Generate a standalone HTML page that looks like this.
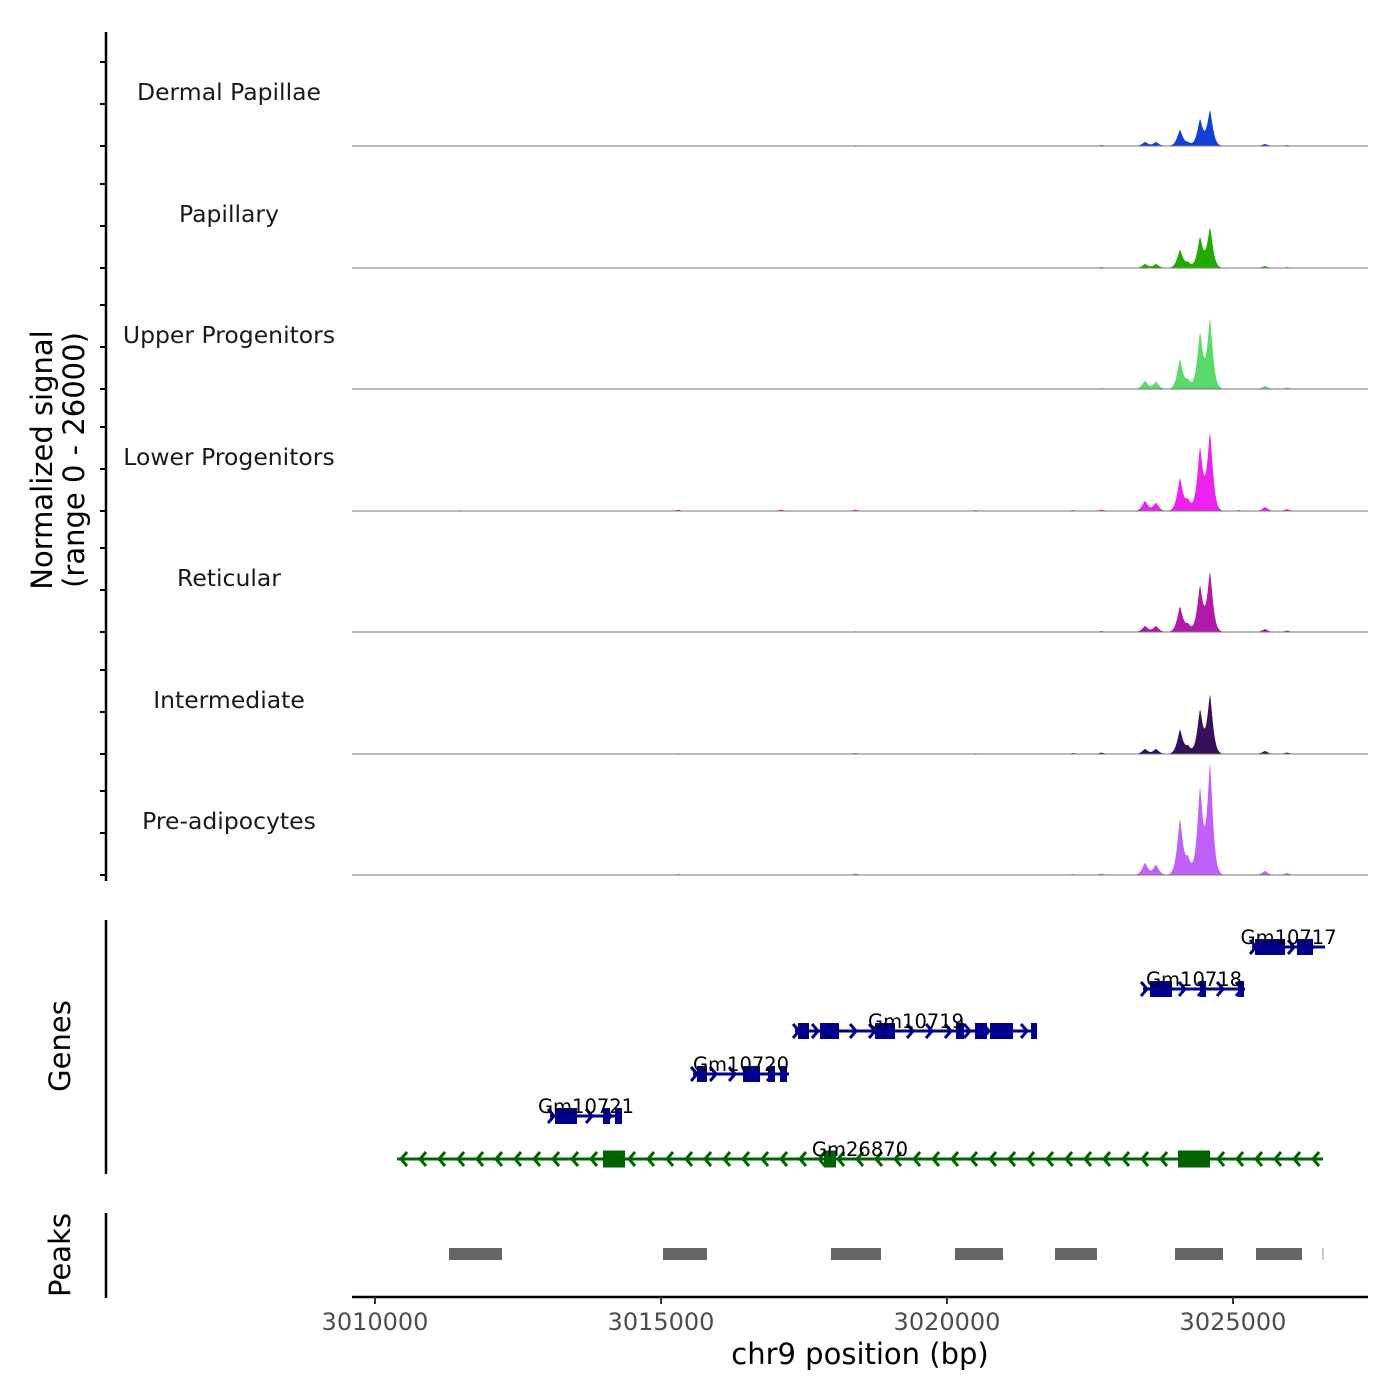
<!DOCTYPE html>
<html><head><meta charset="utf-8"><style>
body{margin:0;background:#fff}
svg{display:block;font-family:"DejaVu Sans","Liberation Sans",sans-serif}
</style></head><body>
<svg id="c" width="1400" height="1400" viewBox="0 0 1400 1400"></svg>
<script>
const trackNames=["Dermal Papillae","Papillary","Upper Progenitors","Lower Progenitors","Reticular","Intermediate","Pre-adipocytes"];
const trackColors=["#1040d8","#22aa00","#5ada6a","#ee22ee","#b01aa8","#36105a","#c060f8"];
const peakCenters=[3011500,3015300,3017100,3018400,3020500,3022200,3022700,3023462,3023654,3024073,3024213,3024423,3024598,3025100,3025559,3025944];
const sig0=[100,100,100,150,100,100,200,860,860,3440,650,5590,7530,100,430,200];
const sig1=[50,80,80,100,80,80,200,860,860,3870,1080,6450,8600,80,430,200];
const sig2=[50,80,80,100,80,80,200,1720,1500,6240,1720,11800,14800,80,650,300];
const sig3=[150,300,300,300,200,200,300,2150,1720,6880,2150,13300,16600,200,860,400];
const sig4=[50,100,100,150,100,100,200,1290,1290,5380,1500,9680,12700,100,650,300];
const sig5=[50,150,100,200,150,200,300,1080,1080,5160,1500,9250,12500,100,650,300];
const sig6=[100,200,100,300,100,200,300,2580,2150,11800,3230,18300,23400,100,860,400];
const signals=[sig0,sig1,sig2,sig3,sig4,sig5,sig6];
const xTicks=[3010000,3015000,3020000,3025000];
const geneNames=["Gm10717","Gm10718","Gm10719","Gm10720","Gm10721","Gm26870"];
const geneStarts=[3025333,3023427,3017343,3015560,3013060,3010385];
const geneEnds=[3026609,3025210,3021574,3017238,3014318,3026574];
const geneStrands=[1,1,1,1,1,-1];
const geneExons=[
 [[3025385,3025910],[3026119,3026399]],
 [[3023549,3023934],[3024423,3024528],[3025088,3025193]],
 [[3017395,3017588],[3017780,3018112],[3018742,3019091],[3020158,3020297],[3020490,3020700],[3020752,3021154],[3021469,3021574]],
 [[3015629,3015804],[3016434,3016731],[3016871,3016993],[3017081,3017203]],
 [[3013147,3013532],[3013986,3014108],[3014196,3014318]],
 [[3013986,3014371],[3017850,3018060],[3024039,3024598]]];
const peakStarts=[3011294,3015035,3017971,3020140,3021888,3023986,3025402,3026556];
const peakEnds=[3012220,3015804,3018846,3020979,3022622,3024825,3026206,3026590];

const svg=document.getElementById('c');const NS="http://www.w3.org/2000/svg";
function mk(t,a,p){const e=document.createElementNS(NS,t);for(const k in a)e.setAttribute(k,a[k]);(p||svg).appendChild(e);return e;}
const X=bp=>375+(bp-3010000)*0.0572;
const baselines=[146,268,389,511,632,754,875];
const Y=v=>v/26000*121;
let ax=mk('line',{x1:106,y1:32,x2:106,y2:881,stroke:'#000','stroke-width':2.5});

baselines.forEach(b=>[0,42,84].forEach(o=>{mk('line',{x1:100,y1:b-o,x2:106,y2:b-o,stroke:'#000','stroke-width':2});}));
baselines.forEach((b,i)=>{
 const g=mk('g',{});
 
 
 let lb=mk('text',{x:229,y:b-46,'text-anchor':'middle','font-size':23.5,fill:'#1a1a1a'},g);lb.textContent=trackNames[i];
 
 let d='M352,'+b;
 for(let x=352;x<=1368;x+=0.5){
  const bp=3010000+(x-375)/0.0572;let v=0;
  peakCenters.forEach((c,k)=>{const dx=Math.abs(bp-c)/50;v+=signals[i][k]*Math.exp(-Math.pow(dx,1.4)/1.6);});
  d+=' L'+x+','+(b-Y(v)).toFixed(2);
 }
 d+=' L1368,'+b+' Z';
 let p=mk('path',{d:d,fill:trackColors[i]},g);
 
 mk('line',{x1:352,y1:b,x2:1368,y2:b,stroke:'#777','stroke-width':1},g);
});
let t1=mk('text',{transform:'translate(52,460) rotate(-90)','text-anchor':'middle','font-size':29,fill:'#000'});t1.textContent='Normalized signal';

let t2=mk('text',{transform:'translate(84,460) rotate(-90)','text-anchor':'middle','font-size':29,fill:'#000'});t2.textContent='(range 0 - 26000)';

let ga=mk('line',{x1:106,y1:920,x2:106,y2:1174,stroke:'#000','stroke-width':2.5});

let gt=mk('text',{transform:'translate(70,1046) rotate(-90)','text-anchor':'middle','font-size':29,fill:'#000'});gt.textContent='Genes';

const geneY=[947,989,1031,1074,1116,1159];
geneNames.forEach((n,i)=>{
 const g=mk('g',{});
 
 const col=geneStrands[i]>0?'#00008b':'#006400';const y=geneY[i];
 const x1=X(geneStarts[i]),x2=X(geneEnds[i]);
 mk('line',{x1:x1,y1:y,x2:x2,y2:y,stroke:col,'stroke-width':3},g);
 for(let x=x1+4;x<x2;x+=19){const s=geneStrands[i]*6;
  mk('polyline',{points:(x-s)+','+(y-7)+' '+x+','+y+' '+(x-s)+','+(y+7),fill:'none',stroke:col,'stroke-width':3},g);}
 const h=i==5?17:16;
 geneExons[i].forEach(e=>{const r=mk('rect',{x:X(e[0]),y:y-h/2,width:X(e[1])-X(e[0]),height:h,fill:col},g);
  });
 const lx=i==5?860:(x1+x2)/2;
 let tt=mk('text',{x:lx,y:y-3,'text-anchor':'middle','font-size':19.5,fill:'#000'},g);tt.textContent=n;
});
let pa=mk('line',{x1:106,y1:1213,x2:106,y2:1298,stroke:'#000','stroke-width':2.5});

let pt=mk('text',{transform:'translate(70,1255) rotate(-90)','text-anchor':'middle','font-size':29,fill:'#000'});pt.textContent='Peaks';

peakStarts.forEach((s,i)=>{const r=mk('rect',{x:X(s),y:1248,width:X(peakEnds[i])-X(s),height:12,fill:i==peakStarts.length-1?'#ccc':'#666'});
 });
let xa=mk('line',{x1:352,y1:1297,x2:1368,y2:1297,stroke:'#000','stroke-width':2.5});

xTicks.forEach(t=>{mk('line',{x1:X(t),y1:1297,x2:X(t),y2:1304,stroke:'#333','stroke-width':2});
 let l=mk('text',{x:X(t),y:1330,'text-anchor':'middle','font-size':24,fill:'#4d4d4d'});l.textContent=t;
 });
let xt=mk('text',{x:860,y:1364,'text-anchor':'middle','font-size':29,fill:'#000'});xt.textContent='chr9 position (bp)';

</script>
</body></html>
